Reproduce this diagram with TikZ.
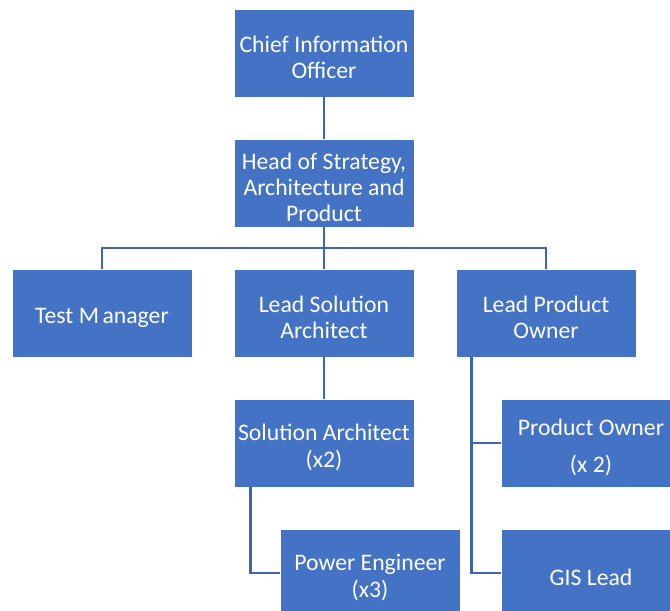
\documentclass[tikz,border=0pt]{standalone}
\usepackage{fontspec}
\setmainfont{Carlito}
\definecolor{boxblue}{HTML}{4472C4}
\definecolor{lineblue}{HTML}{3D66B0}
\newcommand{\rolestrut}{\rule{0pt}{1.07em}}
\begin{document}
\begin{tikzpicture}[x=0.02cm, y=-0.02cm,
        rolebox/.style={draw=white, line width=0.5pt, fill=boxblue, text=white, rectangle,
            minimum width=3.6cm, minimum height=1.76cm, inner sep=0pt, align=center,
            font=\fontsize{13.5}{15}\selectfont},
        link/.style={draw=lineblue, line width=1.3pt}]
        \useasboundingbox (0,0) rectangle (670,611);
        % reporting structure
        \node[rolebox] (cio) at (324,53) {\rolestrut Chief Information\\Officer};
        \node[rolebox] (head) at (324,183) {\rolestrut Head of Strategy,\\Architecture and\\Product};
        \node[rolebox] (test) at (102,313) {\rolestrut Test M\hspace{2pt}anager};
        \node[rolebox] (lsa) at (324,313) {\rolestrut Lead Solution\\Architect};
        \node[rolebox] (lpo) at (546,313) {\rolestrut Lead Product\\Owner};
        \node[rolebox] (sa) at (324,443) {\rolestrut Solution Architect\\(x2)};
        \node[rolebox] (pe) at (370,573) {\rolestrut Power Engineer\\(x3)};
        \node[rolebox] (po) at (591,443) {\rolestrut Product Owner\\[6pt](x 2)};
        \node[rolebox] (gis) at (591,573) {\rolestrut GIS Lead};

        \coordinate (bus) at (324,248);
        \coordinate (sadrop) at ([xshift=0.34cm]sa.south west);
        \coordinate (lpodrop) at ([xshift=0.32cm]lpo.south west);

        \draw[link] (cio) -- (head);
        \draw[link] (head) -- (bus);
        \draw[link] (test.north) |- (bus) -| (lpo.north);
        \draw[link] (bus) -- (lsa.north);
        \draw[link] (lsa) -- (sa);
        \draw[link] (sadrop) |- (pe.west);
        \draw[link] (lpodrop) |- (gis.west);
        \draw[link] (po.west) -- (po.west -| lpodrop);
    \end{tikzpicture}
\end{document}
